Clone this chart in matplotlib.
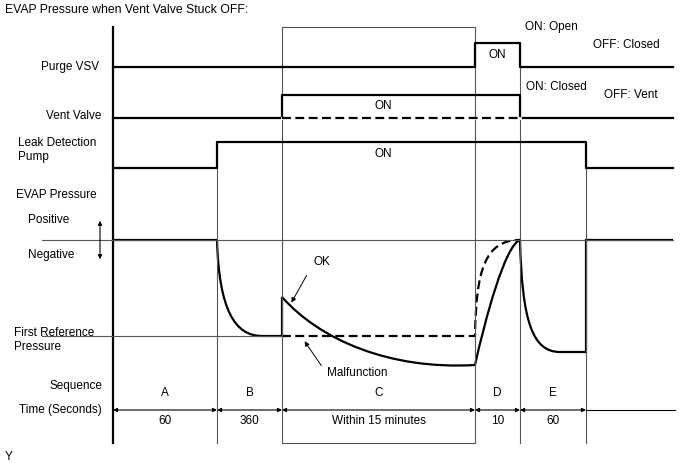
import matplotlib.pyplot as plt
from matplotlib.patches import FancyArrowPatch, PathPatch
from matplotlib.path import Path

plt.rcParams['font.family'] = ['Liberation Sans', 'DejaVu Sans']

# fases de la secuencia y sus tiempos
secuencia = ["A", "B", "C", "D", "E"]
tiempos = ["60", "360", "Within 15 minutes", "10", "60"]
limites = [113, 217, 282, 475, 520, 586]   # bordes de cada fase (px)

# señales digitales (x, y en px)
purga_x = [113, 475, 475, 520, 520, 673]
purga_y = [67, 67, 43, 43, 67, 67]
venteo_x = [113, 282, 282, 520, 520, 673]
venteo_y = [118, 118, 95, 95, 118, 118]
bomba_x = [113, 217, 217, 586, 586, 673]
bomba_y = [168, 168, 142, 142, 168, 168]

# presion EVAP: puntos y puntos de control (curvas bezier)
L, C = Path.LINETO, Path.CURVE4
presion_pts = [(113, 240), (217, 240),
               (219, 310), (235, 336), (262, 336),
               (282, 336), (282, 297),
               (320, 340), (390, 370), (475, 365),
               (485, 320), (505, 245), (520, 240),
               (522, 320), (532, 352), (560, 352),
               (586, 352), (586, 240), (673, 240)]
presion_cod = [Path.MOVETO, L, C, C, C, L, L, C, C, C, C, C, C, C, C, C, L, L, L]
falla_pts = [(282, 336), (475, 336), (476, 270), (485, 240), (520, 240)]
falla_cod = [Path.MOVETO, L, C, C, C]

fig = plt.figure(figsize=(6.88, 4.63), dpi=100)
ax = fig.add_axes([0, 0, 1, 1])
ax.set_xlim(0, 688)
ax.set_ylim(463, 0)
ax.axis('off')

gris = "#555555"
fino = 0.8
grueso = 1.6

# eje izquierdo y recuadro C
ax.plot([113, 113], [27, 443], color="black", lw=grueso)
ax.plot([282, 475, 475, 282, 282], [443, 443, 27, 27, 443], color=gris, lw=fino)
ax.plot([217, 217], [142, 443], color=gris, lw=fino)
ax.plot([520, 520], [43, 443], color=gris, lw=fino)
ax.plot([586, 586], [142, 443], color=gris, lw=fino)

# lineas de referencia
ax.plot([42, 673], [240, 240], color=gris, lw=fino)
ax.plot([42, 282], [336, 336], color=gris, lw=fino)

# señales
ax.plot(purga_x, purga_y, color="black", lw=grueso)
ax.plot(venteo_x, venteo_y, color="black", lw=grueso)
ax.plot([282, 520], [118, 118], color="white", lw=grueso + 0.4)
ax.plot([282, 520], [118, 118], color="black", lw=grueso, ls=(0, (4, 2)))
ax.plot(bomba_x, bomba_y, color="black", lw=grueso)
ax.add_patch(PathPatch(Path(presion_pts, presion_cod), fill=False,
                       edgecolor="black", lw=grueso))
ax.add_patch(PathPatch(Path(falla_pts, falla_cod), fill=False,
                       edgecolor="black", lw=grueso, ls=(0, (4, 2))))

# textos
fs = 8.5
ax.text(5, 10, "EVAP Pressure when Vent Valve Stuck OFF:", fontsize=8.8, va="center")
ax.text(99, 67, "Purge VSV", fontsize=fs, ha="right", va="center")
ax.text(101, 116, "Vent Valve", fontsize=fs, ha="right", va="center")
ax.text(18, 150, "Leak Detection\nPump", fontsize=fs, va="center", linespacing=1.3)
ax.text(16, 195, "EVAP Pressure", fontsize=fs, va="center")
ax.text(28, 220, "Positive", fontsize=fs, va="center")
ax.text(28, 255, "Negative", fontsize=fs, va="center")
ax.text(14, 340, "First Reference\nPressure", fontsize=fs, va="center", linespacing=1.3)
ax.text(102, 386, "Sequence", fontsize=fs, ha="right", va="center")
ax.text(102, 410, "Time (Seconds)", fontsize=fs, ha="right", va="center")
ax.text(5, 457, "Y", fontsize=fs, va="center")

ax.text(497, 55, "ON", fontsize=fs, ha="center", va="center")
ax.text(383, 106, "ON", fontsize=fs, ha="center", va="center")
ax.text(383, 154, "ON", fontsize=fs, ha="center", va="center")
ax.text(525, 27, "ON: Open", fontsize=fs, va="center")
ax.text(593, 45, "OFF: Closed", fontsize=fs, va="center")
ax.text(526, 87, "ON: Closed", fontsize=fs, va="center")
ax.text(604, 95, "OFF: Vent", fontsize=fs, va="center")

# flecha positivo/negativo
ax.annotate("", xy=(100, 218), xytext=(100, 262),
            arrowprops=dict(arrowstyle="<|-|>", color="black", lw=0.8,
                            mutation_scale=6))

# OK y Malfunction
ax.text(313, 262, "OK", fontsize=fs, va="center")
ax.annotate("", xy=(290, 305), xytext=(308, 273),
            arrowprops=dict(arrowstyle="-|>", color="black", lw=0.7,
                            mutation_scale=7))
ax.text(327, 373, "Malfunction", fontsize=fs, va="center")
ax.annotate("", xy=(303, 339), xytext=(323, 368),
            arrowprops=dict(arrowstyle="-|>", color="black", lw=0.7,
                            mutation_scale=7))

# secuencia y tiempos
for i in range(len(secuencia)):
    x0, x1 = limites[i], limites[i + 1]
    xc = (x0 + x1) / 2
    ax.text(xc, 393, secuencia[i], fontsize=fs, ha="center", va="center")
    ax.text(xc, 421, tiempos[i], fontsize=fs, ha="center", va="center")
    flecha = FancyArrowPatch((x0, 410), (x1, 410), arrowstyle="<|-|>",
                             mutation_scale=6, color="black", lw=0.8,
                             shrinkA=0, shrinkB=0)
    ax.add_patch(flecha)
ax.plot([limites[-1], 675], [410, 410], color="black", lw=0.8)

fig.savefig("out.png", dpi=100)
